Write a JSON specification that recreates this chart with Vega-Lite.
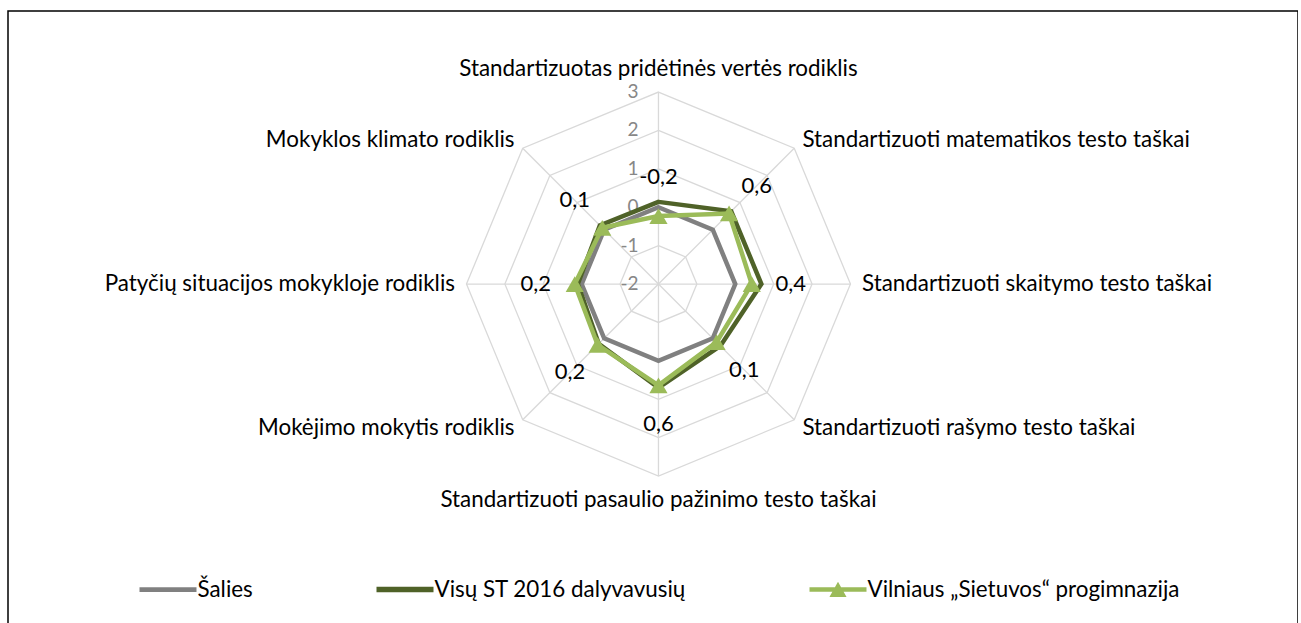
{
  "$schema": "https://vega.github.io/schema/vega-lite/v6.json",
  "width": 1290,
  "height": 620,
  "autosize": {"type": "none"},
  "padding": {"left": 8, "top": 11, "right": 0, "bottom": 0},
  "background": "white",
  "config": {
    "view": {"stroke": "#000", "strokeWidth": 1.5},
    "font": "Lato",
    "locale": {"number": {"decimal": ",", "thousands": " ", "grouping": [3], "currency": ["", " €"], "minus": "-"}}
  },
  "datasets": {
    "axes": [
      {"i": 0, "name": "Standartizuotas pridėtinės vertės rodiklis"},
      {"i": 1, "name": "Standartizuoti matematikos testo taškai"},
      {"i": 2, "name": "Standartizuoti skaitymo testo taškai"},
      {"i": 3, "name": "Standartizuoti rašymo testo taškai"},
      {"i": 4, "name": "Standartizuoti pasaulio pažinimo testo taškai"},
      {"i": 5, "name": "Mokėjimo mokytis rodiklis"},
      {"i": 6, "name": "Patyčių situacijos mokykloje rodiklis"},
      {"i": 7, "name": "Mokyklos klimato rodiklis"}
    ],
    "grid": [
      {"level": -1, "i": 0}, {"level": -1, "i": 1}, {"level": -1, "i": 2}, {"level": -1, "i": 3}, {"level": -1, "i": 4}, {"level": -1, "i": 5}, {"level": -1, "i": 6}, {"level": -1, "i": 7},
      {"level": 0, "i": 0}, {"level": 0, "i": 1}, {"level": 0, "i": 2}, {"level": 0, "i": 3}, {"level": 0, "i": 4}, {"level": 0, "i": 5}, {"level": 0, "i": 6}, {"level": 0, "i": 7},
      {"level": 1, "i": 0}, {"level": 1, "i": 1}, {"level": 1, "i": 2}, {"level": 1, "i": 3}, {"level": 1, "i": 4}, {"level": 1, "i": 5}, {"level": 1, "i": 6}, {"level": 1, "i": 7},
      {"level": 2, "i": 0}, {"level": 2, "i": 1}, {"level": 2, "i": 2}, {"level": 2, "i": 3}, {"level": 2, "i": 4}, {"level": 2, "i": 5}, {"level": 2, "i": 6}, {"level": 2, "i": 7},
      {"level": 3, "i": 0}, {"level": 3, "i": 1}, {"level": 3, "i": 2}, {"level": 3, "i": 3}, {"level": 3, "i": 4}, {"level": 3, "i": 5}, {"level": 3, "i": 6}, {"level": 3, "i": 7}
    ],
    "ticks": [{"level": -2}, {"level": -1}, {"level": 0}, {"level": 1}, {"level": 2}, {"level": 3}],
    "scores": [
      {"series": "Šalies", "i": 0, "value": 0}, {"series": "Šalies", "i": 1, "value": 0}, {"series": "Šalies", "i": 2, "value": 0}, {"series": "Šalies", "i": 3, "value": 0},
      {"series": "Šalies", "i": 4, "value": 0}, {"series": "Šalies", "i": 5, "value": 0}, {"series": "Šalies", "i": 6, "value": 0}, {"series": "Šalies", "i": 7, "value": 0},
      {"series": "Visų ST 2016 dalyvavusių", "i": 0, "value": 0.14}, {"series": "Visų ST 2016 dalyvavusių", "i": 1, "value": 0.68},
      {"series": "Visų ST 2016 dalyvavusių", "i": 2, "value": 0.68}, {"series": "Visų ST 2016 dalyvavusių", "i": 3, "value": 0.28},
      {"series": "Visų ST 2016 dalyvavusių", "i": 4, "value": 0.7}, {"series": "Visų ST 2016 dalyvavusių", "i": 5, "value": 0.2},
      {"series": "Visų ST 2016 dalyvavusių", "i": 6, "value": 0.1}, {"series": "Visų ST 2016 dalyvavusių", "i": 7, "value": 0.16},
      {"series": "Vilniaus „Sietuvos“ progimnazija", "i": 0, "value": -0.23}, {"series": "Vilniaus „Sietuvos“ progimnazija", "i": 1, "value": 0.6},
      {"series": "Vilniaus „Sietuvos“ progimnazija", "i": 2, "value": 0.43}, {"series": "Vilniaus „Sietuvos“ progimnazija", "i": 3, "value": 0.14},
      {"series": "Vilniaus „Sietuvos“ progimnazija", "i": 4, "value": 0.64}, {"series": "Vilniaus „Sietuvos“ progimnazija", "i": 5, "value": 0.24},
      {"series": "Vilniaus „Sietuvos“ progimnazija", "i": 6, "value": 0.18}, {"series": "Vilniaus „Sietuvos“ progimnazija", "i": 7, "value": 0.07}
    ]
  },
  "layer": [
    {
      "data": {"name": "grid"},
      "transform": [
        {"calculate": "(datum.level+2)/5", "as": "r"},
        {"calculate": "datum.r*sin(datum.i*PI/4)", "as": "x"},
        {"calculate": "datum.r*cos(datum.i*PI/4)", "as": "y"}
      ],
      "mark": {"type": "line", "interpolate": "linear-closed", "stroke": "#d9d9d9", "strokeWidth": 1.3},
      "encoding": {
        "x": {"field": "x", "type": "quantitative", "scale": {"domain": [-3.388, 3.331], "nice": false, "zero": false}, "axis": null},
        "y": {"field": "y", "type": "quantitative", "scale": {"domain": [-1.807, 1.422], "nice": false, "zero": false}, "axis": null},
        "detail": {"field": "level", "type": "nominal"},
        "order": {"field": "i", "type": "quantitative"}
      }
    },
    {
      "data": {"name": "axes"},
      "transform": [
        {"calculate": "sin(datum.i*PI/4)", "as": "x"},
        {"calculate": "cos(datum.i*PI/4)", "as": "y"},
        {"calculate": "0", "as": "z"}
      ],
      "mark": {"type": "rule", "stroke": "#d9d9d9", "strokeWidth": 1.3},
      "encoding": {
        "x": {"field": "x", "type": "quantitative"},
        "y": {"field": "y", "type": "quantitative"},
        "x2": {"field": "z"},
        "y2": {"field": "z"}
      }
    },
    {
      "data": {"name": "ticks"},
      "transform": [
        {"calculate": "(datum.level+2)/5", "as": "y"},
        {"calculate": "0", "as": "x"}
      ],
      "mark": {"type": "text", "align": "right", "baseline": "middle", "dx": -20, "fontSize": 19, "color": "#878787", "font": "Lato"},
      "encoding": {
        "x": {"field": "x", "type": "quantitative"},
        "y": {"field": "y", "type": "quantitative"},
        "text": {"field": "level", "type": "quantitative", "format": "d"}
      }
    },
    {
      "data": {"name": "axes"},
      "transform": [
        {"filter": "datum.i === 0"},
        {"calculate": "1.06*sin(datum.i*PI/4)", "as": "x"},
        {"calculate": "1.06*cos(datum.i*PI/4)", "as": "y"}
      ],
      "mark": {"type": "text", "align": "center", "baseline": "middle", "dy": -12, "fontSize": 22.4, "color": "#000", "font": "Lato"},
      "encoding": {
        "x": {"field": "x", "type": "quantitative"},
        "y": {"field": "y", "type": "quantitative"},
        "text": {"field": "name"}
      }
    },
    {
      "data": {"name": "axes"},
      "transform": [
        {"filter": "datum.i === 4"},
        {"calculate": "1.06*sin(datum.i*PI/4)", "as": "x"},
        {"calculate": "1.06*cos(datum.i*PI/4)", "as": "y"}
      ],
      "mark": {"type": "text", "align": "center", "baseline": "middle", "dy": 12, "fontSize": 22.4, "color": "#000", "font": "Lato"},
      "encoding": {
        "x": {"field": "x", "type": "quantitative"},
        "y": {"field": "y", "type": "quantitative"},
        "text": {"field": "name"}
      }
    },
    {
      "data": {"name": "axes"},
      "transform": [
        {"filter": "datum.i >= 1 && datum.i <= 3"},
        {"calculate": "1.06*sin(datum.i*PI/4)", "as": "x"},
        {"calculate": "1.06*cos(datum.i*PI/4)", "as": "y"}
      ],
      "mark": {"type": "text", "align": "left", "baseline": "middle", "fontSize": 22.4, "color": "#000", "font": "Lato"},
      "encoding": {
        "x": {"field": "x", "type": "quantitative"},
        "y": {"field": "y", "type": "quantitative"},
        "text": {"field": "name"}
      }
    },
    {
      "data": {"name": "axes"},
      "transform": [
        {"filter": "datum.i >= 5"},
        {"calculate": "1.06*sin(datum.i*PI/4)", "as": "x"},
        {"calculate": "1.06*cos(datum.i*PI/4)", "as": "y"}
      ],
      "mark": {"type": "text", "align": "right", "baseline": "middle", "fontSize": 22.4, "color": "#000", "font": "Lato"},
      "encoding": {
        "x": {"field": "x", "type": "quantitative"},
        "y": {"field": "y", "type": "quantitative"},
        "text": {"field": "name"}
      }
    },
    {
      "data": {"name": "scores"},
      "transform": [
        {"filter": "datum.series === 'Šalies'"},
        {"calculate": "(datum.value+2)/5", "as": "r"},
        {"calculate": "datum.r*sin(datum.i*PI/4)", "as": "x"},
        {"calculate": "datum.r*cos(datum.i*PI/4)", "as": "y"}
      ],
      "mark": {"type": "line", "interpolate": "linear-closed", "stroke": "#808080", "strokeWidth": 4.5},
      "encoding": {
        "x": {"field": "x", "type": "quantitative"},
        "y": {"field": "y", "type": "quantitative"},
        "order": {"field": "i", "type": "quantitative"}
      }
    },
    {
      "data": {"name": "scores"},
      "transform": [
        {"filter": "datum.series === 'Visų ST 2016 dalyvavusių'"},
        {"calculate": "(datum.value+2)/5", "as": "r"},
        {"calculate": "datum.r*sin(datum.i*PI/4)", "as": "x"},
        {"calculate": "datum.r*cos(datum.i*PI/4)", "as": "y"}
      ],
      "mark": {"type": "line", "interpolate": "linear-closed", "stroke": "#4f6228", "strokeWidth": 4.5},
      "encoding": {
        "x": {"field": "x", "type": "quantitative"},
        "y": {"field": "y", "type": "quantitative"},
        "order": {"field": "i", "type": "quantitative"}
      }
    },
    {
      "data": {"name": "scores"},
      "transform": [
        {"filter": "datum.series === 'Vilniaus „Sietuvos“ progimnazija'"},
        {"calculate": "(datum.value+2)/5", "as": "r"},
        {"calculate": "datum.r*sin(datum.i*PI/4)", "as": "x"},
        {"calculate": "datum.r*cos(datum.i*PI/4)", "as": "y"}
      ],
      "mark": {"type": "line", "interpolate": "linear-closed", "stroke": "#9bbb59", "strokeWidth": 4.5},
      "encoding": {
        "x": {"field": "x", "type": "quantitative"},
        "y": {"field": "y", "type": "quantitative"},
        "order": {"field": "i", "type": "quantitative"}
      }
    },
    {
      "data": {"name": "scores"},
      "transform": [
        {"filter": "datum.series === 'Vilniaus „Sietuvos“ progimnazija'"},
        {"calculate": "(datum.value+2)/5", "as": "r"},
        {"calculate": "datum.r*sin(datum.i*PI/4)", "as": "x"},
        {"calculate": "datum.r*cos(datum.i*PI/4)", "as": "y"}
      ],
      "mark": {"type": "point", "shape": "triangle-up", "filled": true, "size": 330, "color": "#9bbb59", "opacity": 1},
      "encoding": {
        "x": {"field": "x", "type": "quantitative"},
        "y": {"field": "y", "type": "quantitative"}
      }
    },
    {
      "data": {"name": "scores"},
      "transform": [
        {"filter": "datum.series === 'Vilniaus „Sietuvos“ progimnazija'"},
        {"calculate": "(datum.value+2)/5 + 0.203", "as": "r"},
        {"calculate": "datum.r*sin(datum.i*PI/4)", "as": "x"},
        {"calculate": "datum.r*cos(datum.i*PI/4)", "as": "y"}
      ],
      "mark": {"type": "text", "align": "center", "baseline": "middle", "fontSize": 22, "color": "#000", "font": "Lato"},
      "encoding": {
        "x": {"field": "x", "type": "quantitative"},
        "y": {"field": "y", "type": "quantitative"},
        "text": {"field": "value", "type": "quantitative", "format": ".1f"}
      }
    },
    {
      "data": {"name": "scores"},
      "transform": [{"filter": "false"}],
      "mark": {"type": "point", "filled": true, "opacity": 1},
      "encoding": {
        "x": {"field": "value", "type": "quantitative"},
        "y": {"field": "value", "type": "quantitative"},
        "fill": {
          "field": "series", "type": "nominal",
          "scale": {"domain": ["Šalies", "Visų ST 2016 dalyvavusių", "Vilniaus „Sietuvos“ progimnazija"], "range": ["#808080", "#4f6228", "#9bbb59"]},
          "legend": {"orient": "none", "legendX": 131.5, "legendY": 550, "direction": "horizontal", "title": null, "labelFont": "Lato", "labelFontSize": 22.4, "labelColor": "#000", "symbolSize": 3249, "columnPadding": 123, "labelOffset": 1, "padding": 0, "symbolStrokeWidth": 0, "labelLimit": 0, "symbolOpacity": 1}
        },
        "shape": {
          "field": "series", "type": "nominal",
          "scale": {"domain": ["Šalies", "Visų ST 2016 dalyvavusių", "Vilniaus „Sietuvos“ progimnazija"], "range": ["M-1,-0.085H1V0.085H-1Z", "M-1,-0.095H1V0.095H-1Z", "M-1,-0.08H1V0.08H-1Z M-0.3,0.26L0,-0.27L0.3,0.26Z"]},
          "legend": {"orient": "none", "legendX": 131.5, "legendY": 550, "direction": "horizontal", "title": null, "labelFont": "Lato", "labelFontSize": 22.4, "labelColor": "#000", "symbolSize": 3249, "columnPadding": 123, "labelOffset": 1, "padding": 0, "symbolStrokeWidth": 0, "labelLimit": 0, "symbolOpacity": 1}
        }
      }
    }
  ]
}
